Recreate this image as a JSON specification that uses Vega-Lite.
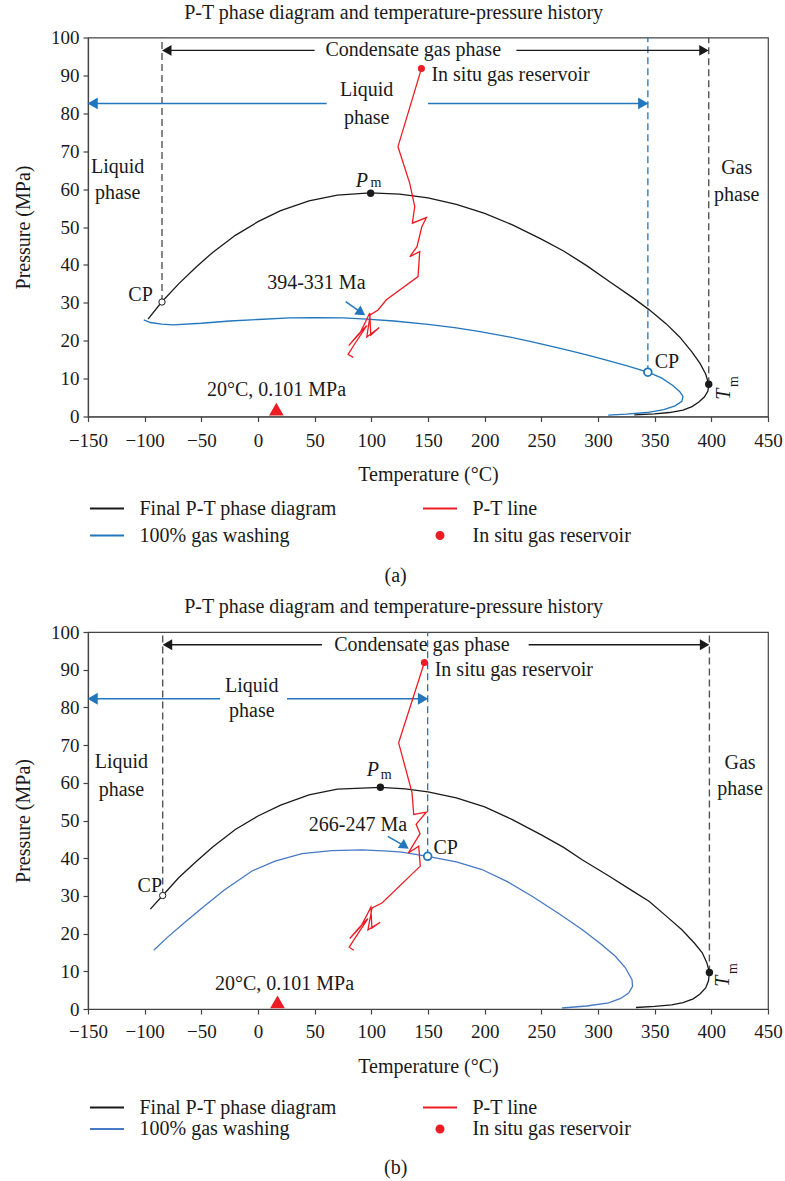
{
  "$schema": "https://vega.github.io/schema/vega-lite/v6.json",
  "padding": {"left": 12, "top": 1.5, "right": 5, "bottom": 5},
  "bounds": "flush",
  "spacing": 594.5,
  "resolve": {"scale": {"color": "independent", "shape": "independent"}, "legend": {"color": "independent"}},
  "config": {
    "font": "Liberation Serif",
    "view": {"stroke": "#444", "strokeWidth": 1.2},
    "axis": {"labelFont": "Liberation Serif", "labelFontSize": 19, "labelColor": "#1a1a1a", "titleFont": "Liberation Serif", "titleFontSize": 20, "titleFontWeight": "normal", "titleColor": "#1a1a1a", "domainColor": "#444", "tickColor": "#444", "tickSize": 5, "grid": false, "domainWidth": 1.2, "tickWidth": 1.2, "labelFlush": false, "labelOverlap": false},
    "title": {"font": "Liberation Serif", "fontSize": 20, "fontWeight": "normal", "color": "#1a1a1a"},
    "legend": {"labelFont": "Liberation Serif", "labelFontSize": 20, "labelColor": "#1a1a1a", "labelLimit": 400}
  },
  "vconcat": [
    {
      "bounds": "flush",
      "resolve": {"scale": {"color": "independent", "shape": "independent"}, "legend": {"color": "independent"}},
      "title": {"text": "(a)", "orient": "bottom", "anchor": "middle", "frame": "bounds", "baseline": "top", "offset": 20, "dx": -2},
      "vconcat": [
        {
          "width": 680,
          "height": 379,
          "title": {"text": "P-T phase diagram and temperature-pressure history", "anchor": "middle", "frame": "bounds", "baseline": "bottom", "offset": -14, "dx": -4},
          "encoding": {
            "x": {"field": "T", "type": "quantitative", "scale": {"domain": [-150, 450], "nice": false, "zero": false}, "axis": {"title": "Temperature (°C)", "values": [-150, -100, -50, 0, 50, 100, 150, 200, 250, 300, 350, 400, 450], "labelPadding": 10, "titlePadding": 13.5}},
            "y": {"field": "P", "type": "quantitative", "scale": {"domain": [0, 100], "nice": false, "zero": false}, "axis": {"title": "Pressure (MPa)", "values": [0, 10, 20, 30, 40, 50, 60, 70, 80, 90, 100], "labelPadding": 4, "titleX": -65, "titleBaseline": "middle"}}
          },
          "layer": [
            {
              "data": {"values": [
                {"T": -84.7, "P": 30.2, "P2": 100},
                {"T": 397.7, "P": 8.5, "P2": 100}
              ]},
              "mark": {"type": "rule", "color": "#555", "strokeWidth": 1.4, "strokeDash": [7, 4]},
              "encoding": {"y2": {"field": "P2"}}
            },
            {
              "data": {"values": [{"T": 344, "P": 11.7, "P2": 100}]},
              "mark": {"type": "rule", "color": "#2176bd", "strokeWidth": 1.3, "strokeDash": [7, 4]},
              "encoding": {"y2": {"field": "P2"}}
            },
            {
              "data": {"values": [
                {"T": -80.5, "T2": 50, "P": 96.6},
                {"T": 228, "T2": 393.5, "P": 96.6}
              ]},
              "mark": {"type": "rule", "color": "#1a1a1a", "strokeWidth": 1.4},
              "encoding": {"x2": {"field": "T2"}}
            },
            {
              "data": {"values": [
                {"T": -145.9, "T2": 60.6, "P": 82.6},
                {"T": 150, "T2": 339.9, "P": 82.6}
              ]},
              "mark": {"type": "rule", "color": "#2176bd", "strokeWidth": 1.5},
              "encoding": {"x2": {"field": "T2"}}
            },
            {
              "data": {"values": [
                {"T": -80.5, "P": 96.6, "dir": "left"},
                {"T": 393.5, "P": 96.6, "dir": "right"}
              ]},
              "mark": {"type": "point", "filled": true, "opacity": 1, "color": "#1a1a1a", "size": 120},
              "encoding": {"shape": {"field": "dir", "type": "nominal", "scale": {"domain": ["left", "right"], "range": ["triangle-left", "triangle-right"]}, "legend": null}}
            },
            {
              "data": {"values": [
                {"T": -145.9, "P": 82.6, "dir": "left"},
                {"T": 339.9, "P": 82.6, "dir": "right"}
              ]},
              "mark": {"type": "point", "filled": true, "opacity": 1, "color": "#2176bd", "size": 140},
              "encoding": {"shape": {"field": "dir", "type": "nominal", "scale": {"domain": ["left", "right"], "range": ["triangle-left", "triangle-right"]}, "legend": null}}
            },
            {
              "data": {"values": [{"T": 77.4, "P": 30.3, "T2": 91.1, "P2": 27.4}]},
              "mark": {"type": "rule", "color": "#2176bd", "strokeWidth": 1.5},
              "encoding": {"x2": {"field": "T2"}, "y2": {"field": "P2"}}
            },
            {
              "data": {"values": [{"T": 91.1, "P": 27.4}]},
              "mark": {"type": "point", "shape": "triangle-up", "angle": 125, "filled": true, "opacity": 1, "color": "#2176bd", "size": 120}
            },
            {
              "data": {"values": [
                {"series": "Final P-T phase diagram", "i": 0, "T": -97, "P": 25.7},
                {"series": "Final P-T phase diagram", "i": 1, "T": -85, "P": 30.2},
                {"series": "Final P-T phase diagram", "i": 2, "T": -70, "P": 35.0},
                {"series": "Final P-T phase diagram", "i": 3, "T": -55, "P": 39.3},
                {"series": "Final P-T phase diagram", "i": 4, "T": -40, "P": 43.3},
                {"series": "Final P-T phase diagram", "i": 5, "T": -20, "P": 47.8},
                {"series": "Final P-T phase diagram", "i": 6, "T": 0, "P": 51.4},
                {"series": "Final P-T phase diagram", "i": 7, "T": 20, "P": 54.3},
                {"series": "Final P-T phase diagram", "i": 8, "T": 45, "P": 56.9},
                {"series": "Final P-T phase diagram", "i": 9, "T": 70, "P": 58.4},
                {"series": "Final P-T phase diagram", "i": 10, "T": 99, "P": 59.0},
                {"series": "Final P-T phase diagram", "i": 11, "T": 125, "P": 58.7},
                {"series": "Final P-T phase diagram", "i": 12, "T": 150, "P": 57.7},
                {"series": "Final P-T phase diagram", "i": 13, "T": 175, "P": 56.0},
                {"series": "Final P-T phase diagram", "i": 14, "T": 200, "P": 53.6},
                {"series": "Final P-T phase diagram", "i": 15, "T": 225, "P": 50.5},
                {"series": "Final P-T phase diagram", "i": 16, "T": 250, "P": 46.8},
                {"series": "Final P-T phase diagram", "i": 17, "T": 270, "P": 43.6},
                {"series": "Final P-T phase diagram", "i": 18, "T": 290, "P": 39.8},
                {"series": "Final P-T phase diagram", "i": 19, "T": 310, "P": 35.6},
                {"series": "Final P-T phase diagram", "i": 20, "T": 330, "P": 31.5},
                {"series": "Final P-T phase diagram", "i": 21, "T": 345, "P": 28.2},
                {"series": "Final P-T phase diagram", "i": 22, "T": 360, "P": 24.5},
                {"series": "Final P-T phase diagram", "i": 23, "T": 372, "P": 21.0},
                {"series": "Final P-T phase diagram", "i": 24, "T": 383, "P": 17.0},
                {"series": "Final P-T phase diagram", "i": 25, "T": 390, "P": 14.0},
                {"series": "Final P-T phase diagram", "i": 26, "T": 395, "P": 11.2},
                {"series": "Final P-T phase diagram", "i": 27, "T": 397.7, "P": 8.5},
                {"series": "Final P-T phase diagram", "i": 28, "T": 397, "P": 6.7},
                {"series": "Final P-T phase diagram", "i": 29, "T": 394, "P": 5.2},
                {"series": "Final P-T phase diagram", "i": 30, "T": 389, "P": 3.8},
                {"series": "Final P-T phase diagram", "i": 31, "T": 383, "P": 2.6},
                {"series": "Final P-T phase diagram", "i": 32, "T": 375, "P": 1.7},
                {"series": "Final P-T phase diagram", "i": 33, "T": 363, "P": 1.05},
                {"series": "Final P-T phase diagram", "i": 34, "T": 350, "P": 0.7},
                {"series": "Final P-T phase diagram", "i": 35, "T": 332, "P": 0.45},
                {"series": "100% gas washing", "i": 0, "T": -100.8, "P": 25.5},
                {"series": "100% gas washing", "i": 1, "T": -95, "P": 24.8},
                {"series": "100% gas washing", "i": 2, "T": -85, "P": 24.4},
                {"series": "100% gas washing", "i": 3, "T": -75, "P": 24.2},
                {"series": "100% gas washing", "i": 4, "T": -50, "P": 24.6},
                {"series": "100% gas washing", "i": 5, "T": -25, "P": 25.2},
                {"series": "100% gas washing", "i": 6, "T": 0, "P": 25.6},
                {"series": "100% gas washing", "i": 7, "T": 28, "P": 26.0},
                {"series": "100% gas washing", "i": 8, "T": 50, "P": 26.1},
                {"series": "100% gas washing", "i": 9, "T": 75, "P": 26.0},
                {"series": "100% gas washing", "i": 10, "T": 96, "P": 25.7},
                {"series": "100% gas washing", "i": 11, "T": 120, "P": 25.2},
                {"series": "100% gas washing", "i": 12, "T": 150, "P": 24.3},
                {"series": "100% gas washing", "i": 13, "T": 175, "P": 23.4},
                {"series": "100% gas washing", "i": 14, "T": 196, "P": 22.4},
                {"series": "100% gas washing", "i": 15, "T": 220, "P": 21.1},
                {"series": "100% gas washing", "i": 16, "T": 240, "P": 19.8},
                {"series": "100% gas washing", "i": 17, "T": 262, "P": 18.3},
                {"series": "100% gas washing", "i": 18, "T": 284, "P": 16.7},
                {"series": "100% gas washing", "i": 19, "T": 305, "P": 15.1},
                {"series": "100% gas washing", "i": 20, "T": 325, "P": 13.4},
                {"series": "100% gas washing", "i": 21, "T": 344, "P": 11.7},
                {"series": "100% gas washing", "i": 22, "T": 356, "P": 10.2},
                {"series": "100% gas washing", "i": 23, "T": 366, "P": 8.2},
                {"series": "100% gas washing", "i": 24, "T": 372, "P": 6.6},
                {"series": "100% gas washing", "i": 25, "T": 375, "P": 5.3},
                {"series": "100% gas washing", "i": 26, "T": 374, "P": 4.0},
                {"series": "100% gas washing", "i": 27, "T": 368, "P": 2.8},
                {"series": "100% gas washing", "i": 28, "T": 358, "P": 1.8},
                {"series": "100% gas washing", "i": 29, "T": 343, "P": 1.05},
                {"series": "100% gas washing", "i": 30, "T": 325, "P": 0.6},
                {"series": "100% gas washing", "i": 31, "T": 309, "P": 0.37},
                {"series": "P-T line", "i": 0, "T": 144.2, "P": 91.8},
                {"series": "P-T line", "i": 1, "T": 123.5, "P": 71.2},
                {"series": "P-T line", "i": 2, "T": 133.9, "P": 61.5},
                {"series": "P-T line", "i": 3, "T": 138.3, "P": 55.4},
                {"series": "P-T line", "i": 4, "T": 136.2, "P": 51.0},
                {"series": "P-T line", "i": 5, "T": 148.6, "P": 52.5},
                {"series": "P-T line", "i": 6, "T": 144.5, "P": 50.0},
                {"series": "P-T line", "i": 7, "T": 140.3, "P": 44.8},
                {"series": "P-T line", "i": 8, "T": 134.0, "P": 42.2},
                {"series": "P-T line", "i": 9, "T": 142.7, "P": 43.5},
                {"series": "P-T line", "i": 10, "T": 141.2, "P": 36.9},
                {"series": "P-T line", "i": 11, "T": 113.3, "P": 30.8},
                {"series": "P-T line", "i": 12, "T": 105.9, "P": 28.1},
                {"series": "P-T line", "i": 13, "T": 99.0, "P": 26.8},
                {"series": "P-T line", "i": 14, "T": 96.0, "P": 21.0},
                {"series": "P-T line", "i": 15, "T": 107.0, "P": 23.5},
                {"series": "P-T line", "i": 16, "T": 99.5, "P": 21.5},
                {"series": "P-T line", "i": 17, "T": 98.6, "P": 27.3},
                {"series": "P-T line", "i": 18, "T": 90.0, "P": 22.0},
                {"series": "P-T line", "i": 19, "T": 80.0, "P": 18.7},
                {"series": "P-T line", "i": 20, "T": 88.0, "P": 21.5},
                {"series": "P-T line", "i": 21, "T": 96.0, "P": 24.0},
                {"series": "P-T line", "i": 22, "T": 85.0, "P": 19.0},
                {"series": "P-T line", "i": 23, "T": 79.5, "P": 16.4},
                {"series": "P-T line", "i": 24, "T": 84.0, "P": 15.6}
              ]},
              "mark": {"type": "line", "strokeWidth": 1.3},
              "encoding": {
                "order": {"field": "i", "type": "quantitative"},
                "color": {"field": "series", "type": "nominal",
                  "scale": {"domain": ["Final P-T phase diagram", "100% gas washing", "P-T line", "In situ gas reservoir"], "range": ["#1a1a1a", "#2176bd", "#ed1c24", "#ed1c24"]},
                  "legend": {"orient": "none", "legendX": 9, "legendY": 461, "columns": 2, "title": null, "padding": 0, "symbolType": "M-2,0L2,0", "symbolSize": 289, "symbolStrokeWidth": 2, "labelOffset": 22.5, "columnPadding": 82, "rowPadding": 7,
                    "encode": {"symbols": {"update": {
                      "shape": {"signal": "datum.value === 'In situ gas reservoir' ? 'circle' : 'M-2,0L2,0'"},
                      "size": {"signal": "datum.value === 'In situ gas reservoir' ? 49 : 289"},
                      "fill": {"signal": "datum.value === 'In situ gas reservoir' ? '#ed1c24' : 'transparent'"},
                      "stroke": {"signal": "datum.value === 'Final P-T phase diagram' ? '#555555' : datum.value === '100% gas washing' ? '#4a90d0' : datum.value === 'P-T line' ? '#f04a50' : 'transparent'"},
                      "strokeWidth": {"value": 2}
                    }}}
                  }
                }
              }
            },
            {
              "data": {"values": [{"T": -84.7, "P": 30.2}]},
              "mark": {"type": "point", "shape": "circle", "filled": true, "fill": "white", "stroke": "#1a1a1a", "strokeWidth": 1, "opacity": 1, "size": 40}
            },
            {
              "data": {"values": [{"T": 344, "P": 11.7}]},
              "mark": {"type": "point", "shape": "circle", "filled": true, "fill": "white", "stroke": "#2176bd", "strokeWidth": 1.8, "opacity": 1, "size": 60}
            },
            {
              "data": {"values": [{"T": 99.4, "P": 58.9}, {"T": 397.7, "P": 8.5}]},
              "mark": {"type": "circle", "color": "#1a1a1a", "opacity": 1, "size": 55}
            },
            {
              "data": {"values": [{"series": "In situ gas reservoir", "T": 144.2, "P": 91.8}]},
              "mark": {"type": "circle", "opacity": 1, "size": 50},
              "encoding": {"color": {"field": "series", "type": "nominal"}}
            },
            {
              "data": {"values": [{"T": 16.2, "P": 1.95}]},
              "mark": {"type": "point", "shape": "triangle-up", "filled": true, "opacity": 1, "color": "#ed1c24", "size": 216}
            },
            {
              "data": {"values": [
                {"label": "Condensate gas phase", "T": 137, "P": 96.6},
                {"label": "Liquid", "T": 95.9, "P": 86.1},
                {"label": "phase", "T": 95.9, "P": 78.8},
                {"label": "Liquid", "T": -123.8, "P": 65.9},
                {"label": "phase", "T": -123.8, "P": 59.0},
                {"label": "Gas", "T": 422.4, "P": 65.6},
                {"label": "phase", "T": 422.4, "P": 58.4},
                {"label": "394-331 Ma", "T": 51.5, "P": 35.2},
                {"label": "20°C, 0.101 MPa", "T": 16.3, "P": 7.0}
              ]},
              "mark": {"type": "text", "align": "center", "baseline": "middle", "fontSize": 20, "color": "#1a1a1a"},
              "encoding": {"text": {"field": "label"}}
            },
            {
              "data": {"values": [
                {"label": "In situ gas reservoir", "T": 153, "P": 90.0},
                {"label": "CP", "T": 350, "P": 14.5}
              ]},
              "mark": {"type": "text", "align": "left", "baseline": "middle", "fontSize": 20, "color": "#1a1a1a"},
              "encoding": {"text": {"field": "label"}}
            },
            {
              "data": {"values": [{"label": "CP", "T": -92.8, "P": 32.1}]},
              "mark": {"type": "text", "align": "right", "baseline": "middle", "fontSize": 20, "color": "#1a1a1a"},
              "encoding": {"text": {"field": "label"}}
            },
            {
              "data": {"values": [{"label": "P", "T": 91.6, "P": 62.2}]},
              "mark": {"type": "text", "align": "center", "baseline": "middle", "fontSize": 20, "fontStyle": "italic", "color": "#1a1a1a"},
              "encoding": {"text": {"field": "label"}}
            },
            {
              "data": {"values": [{"label": "m", "T": 104.1, "P": 61.5}]},
              "mark": {"type": "text", "align": "center", "baseline": "middle", "fontSize": 14, "color": "#1a1a1a"},
              "encoding": {"text": {"field": "label"}}
            },
            {
              "data": {"values": [{"label": "T", "T": 411.3, "P": 5.9}]},
              "mark": {"type": "text", "align": "center", "baseline": "middle", "angle": 270, "fontSize": 20, "fontStyle": "italic", "color": "#1a1a1a"},
              "encoding": {"text": {"field": "label"}}
            },
            {
              "data": {"values": [{"label": "m", "T": 419.7, "P": 9.2}]},
              "mark": {"type": "text", "align": "center", "baseline": "middle", "angle": 270, "fontSize": 14, "color": "#1a1a1a"},
              "encoding": {"text": {"field": "label"}}
            }
          ]
        }
      ]
    },
    {
      "bounds": "flush",
      "resolve": {"scale": {"color": "independent", "shape": "independent"}, "legend": {"color": "independent"}},
      "title": {"text": "(b)", "orient": "bottom", "anchor": "middle", "frame": "bounds", "baseline": "top", "offset": 18, "dx": -2},
      "vconcat": [
        {
          "width": 680,
          "height": 377,
          "title": {"text": "P-T phase diagram and temperature-pressure history", "anchor": "middle", "frame": "bounds", "baseline": "bottom", "offset": -14, "dx": -4},
          "encoding": {
            "x": {"field": "T", "type": "quantitative", "scale": {"domain": [-150, 450], "nice": false, "zero": false}, "axis": {"title": "Temperature (°C)", "values": [-150, -100, -50, 0, 50, 100, 150, 200, 250, 300, 350, 400, 450], "labelPadding": 8.5, "titlePadding": 15}},
            "y": {"field": "P", "type": "quantitative", "scale": {"domain": [0, 100], "nice": false, "zero": false}, "axis": {"title": "Pressure (MPa)", "values": [0, 10, 20, 30, 40, 50, 60, 70, 80, 90, 100], "labelPadding": 4, "titleX": -65, "titleBaseline": "middle"}}
          },
          "layer": [
            {
              "data": {"values": [
                {"T": -84.1, "P": 30.1, "P2": 100},
                {"T": 398.3, "P": 9.7, "P2": 100}
              ]},
              "mark": {"type": "rule", "color": "#555", "strokeWidth": 1.4, "strokeDash": [7, 4]},
              "encoding": {"y2": {"field": "P2"}}
            },
            {
              "data": {"values": [{"T": 149.7, "P": 40.5, "P2": 100}]},
              "mark": {"type": "rule", "color": "#2176bd", "strokeWidth": 1.3, "strokeDash": [7, 4]},
              "encoding": {"y2": {"field": "P2"}}
            },
            {
              "data": {"values": [
                {"T": -79.9, "T2": 56.5, "P": 96.6},
                {"T": 238.8, "T2": 394.1, "P": 96.6}
              ]},
              "mark": {"type": "rule", "color": "#1a1a1a", "strokeWidth": 1.4},
              "encoding": {"x2": {"field": "T2"}}
            },
            {
              "data": {"values": [
                {"T": -145.9, "T2": -33.5, "P": 82.3},
                {"T": 25.6, "T2": 145.6, "P": 82.3}
              ]},
              "mark": {"type": "rule", "color": "#2176bd", "strokeWidth": 1.5},
              "encoding": {"x2": {"field": "T2"}}
            },
            {
              "data": {"values": [
                {"T": -79.9, "P": 96.6, "dir": "left"},
                {"T": 394.1, "P": 96.6, "dir": "right"}
              ]},
              "mark": {"type": "point", "filled": true, "opacity": 1, "color": "#1a1a1a", "size": 120},
              "encoding": {"shape": {"field": "dir", "type": "nominal", "scale": {"domain": ["left", "right"], "range": ["triangle-left", "triangle-right"]}, "legend": null}}
            },
            {
              "data": {"values": [
                {"T": -145.9, "P": 82.3, "dir": "left"},
                {"T": 145.6, "P": 82.3, "dir": "right"}
              ]},
              "mark": {"type": "point", "filled": true, "opacity": 1, "color": "#2176bd", "size": 140},
              "encoding": {"shape": {"field": "dir", "type": "nominal", "scale": {"domain": ["left", "right"], "range": ["triangle-left", "triangle-right"]}, "legend": null}}
            },
            {
              "data": {"values": [{"T": 114.5, "P": 45.8, "T2": 129.5, "P2": 43.2}]},
              "mark": {"type": "rule", "color": "#2176bd", "strokeWidth": 1.5},
              "encoding": {"x2": {"field": "T2"}, "y2": {"field": "P2"}}
            },
            {
              "data": {"values": [{"T": 129.5, "P": 43.2}]},
              "mark": {"type": "point", "shape": "triangle-up", "angle": 124, "filled": true, "opacity": 1, "color": "#2176bd", "size": 120}
            },
            {
              "data": {"values": [
                {"series": "Final P-T phase diagram", "i": 0, "T": -95, "P": 26.5},
                {"series": "Final P-T phase diagram", "i": 1, "T": -84.1, "P": 30.1},
                {"series": "Final P-T phase diagram", "i": 2, "T": -70, "P": 34.8},
                {"series": "Final P-T phase diagram", "i": 3, "T": -55, "P": 39.0},
                {"series": "Final P-T phase diagram", "i": 4, "T": -40, "P": 43.0},
                {"series": "Final P-T phase diagram", "i": 5, "T": -20, "P": 47.6},
                {"series": "Final P-T phase diagram", "i": 6, "T": 0, "P": 51.2},
                {"series": "Final P-T phase diagram", "i": 7, "T": 20, "P": 54.1},
                {"series": "Final P-T phase diagram", "i": 8, "T": 45, "P": 56.8},
                {"series": "Final P-T phase diagram", "i": 9, "T": 70, "P": 58.3},
                {"series": "Final P-T phase diagram", "i": 10, "T": 108, "P": 58.8},
                {"series": "Final P-T phase diagram", "i": 11, "T": 130, "P": 58.4},
                {"series": "Final P-T phase diagram", "i": 12, "T": 150, "P": 57.6},
                {"series": "Final P-T phase diagram", "i": 13, "T": 175, "P": 56.0},
                {"series": "Final P-T phase diagram", "i": 14, "T": 200, "P": 53.6},
                {"series": "Final P-T phase diagram", "i": 15, "T": 224, "P": 50.3},
                {"series": "Final P-T phase diagram", "i": 16, "T": 250, "P": 46.2},
                {"series": "Final P-T phase diagram", "i": 17, "T": 270, "P": 42.8},
                {"series": "Final P-T phase diagram", "i": 18, "T": 286, "P": 39.6},
                {"series": "Final P-T phase diagram", "i": 19, "T": 310, "P": 35.2},
                {"series": "Final P-T phase diagram", "i": 20, "T": 330, "P": 31.4},
                {"series": "Final P-T phase diagram", "i": 21, "T": 345, "P": 28.6},
                {"series": "Final P-T phase diagram", "i": 22, "T": 360, "P": 24.7},
                {"series": "Final P-T phase diagram", "i": 23, "T": 374, "P": 21.0},
                {"series": "Final P-T phase diagram", "i": 24, "T": 385, "P": 17.5},
                {"series": "Final P-T phase diagram", "i": 25, "T": 392, "P": 14.9},
                {"series": "Final P-T phase diagram", "i": 26, "T": 396, "P": 12.3},
                {"series": "Final P-T phase diagram", "i": 27, "T": 398.3, "P": 9.7},
                {"series": "Final P-T phase diagram", "i": 28, "T": 397.5, "P": 7.5},
                {"series": "Final P-T phase diagram", "i": 29, "T": 395, "P": 5.6},
                {"series": "Final P-T phase diagram", "i": 30, "T": 390, "P": 4.0},
                {"series": "Final P-T phase diagram", "i": 31, "T": 384, "P": 2.7},
                {"series": "Final P-T phase diagram", "i": 32, "T": 375, "P": 1.7},
                {"series": "Final P-T phase diagram", "i": 33, "T": 365, "P": 1.1},
                {"series": "Final P-T phase diagram", "i": 34, "T": 350, "P": 0.7},
                {"series": "Final P-T phase diagram", "i": 35, "T": 333.5, "P": 0.4},
                {"series": "100% gas washing", "i": 0, "T": -92, "P": 15.6},
                {"series": "100% gas washing", "i": 1, "T": -80, "P": 19.0},
                {"series": "100% gas washing", "i": 2, "T": -65, "P": 22.9},
                {"series": "100% gas washing", "i": 3, "T": -49.4, "P": 26.8},
                {"series": "100% gas washing", "i": 4, "T": -30, "P": 31.5},
                {"series": "100% gas washing", "i": 5, "T": -5.3, "P": 36.6},
                {"series": "100% gas washing", "i": 6, "T": 15, "P": 39.2},
                {"series": "100% gas washing", "i": 7, "T": 38.8, "P": 41.2},
                {"series": "100% gas washing", "i": 8, "T": 65, "P": 42.0},
                {"series": "100% gas washing", "i": 9, "T": 91.8, "P": 42.2},
                {"series": "100% gas washing", "i": 10, "T": 115, "P": 41.9},
                {"series": "100% gas washing", "i": 11, "T": 127, "P": 41.6},
                {"series": "100% gas washing", "i": 12, "T": 149.7, "P": 40.5},
                {"series": "100% gas washing", "i": 13, "T": 175, "P": 39.0},
                {"series": "100% gas washing", "i": 14, "T": 197.6, "P": 37.0},
                {"series": "100% gas washing", "i": 15, "T": 220, "P": 33.8},
                {"series": "100% gas washing", "i": 16, "T": 241.8, "P": 29.9},
                {"series": "100% gas washing", "i": 17, "T": 265, "P": 25.4},
                {"series": "100% gas washing", "i": 18, "T": 285.9, "P": 21.1},
                {"series": "100% gas washing", "i": 19, "T": 302, "P": 17.4},
                {"series": "100% gas washing", "i": 20, "T": 315.3, "P": 14.0},
                {"series": "100% gas washing", "i": 21, "T": 324, "P": 11.0},
                {"series": "100% gas washing", "i": 22, "T": 330, "P": 7.8},
                {"series": "100% gas washing", "i": 23, "T": 330.5, "P": 6.0},
                {"series": "100% gas washing", "i": 24, "T": 327, "P": 4.2},
                {"series": "100% gas washing", "i": 25, "T": 320, "P": 2.8},
                {"series": "100% gas washing", "i": 26, "T": 309.4, "P": 1.6},
                {"series": "100% gas washing", "i": 27, "T": 290, "P": 0.8},
                {"series": "100% gas washing", "i": 28, "T": 268.2, "P": 0.26},
                {"series": "P-T line", "i": 0, "T": 146.8, "P": 91.9},
                {"series": "P-T line", "i": 1, "T": 124.1, "P": 70.6},
                {"series": "P-T line", "i": 2, "T": 135.9, "P": 57.4},
                {"series": "P-T line", "i": 3, "T": 137.4, "P": 51.6},
                {"series": "P-T line", "i": 4, "T": 148.5, "P": 52.2},
                {"series": "P-T line", "i": 5, "T": 139.5, "P": 49.0},
                {"series": "P-T line", "i": 6, "T": 143.0, "P": 46.5},
                {"series": "P-T line", "i": 7, "T": 132.7, "P": 41.4},
                {"series": "P-T line", "i": 8, "T": 141.8, "P": 43.2},
                {"series": "P-T line", "i": 9, "T": 143.2, "P": 37.9},
                {"series": "P-T line", "i": 10, "T": 109.4, "P": 28.1},
                {"series": "P-T line", "i": 11, "T": 100.6, "P": 26.8},
                {"series": "P-T line", "i": 12, "T": 97.0, "P": 21.0},
                {"series": "P-T line", "i": 13, "T": 107.9, "P": 23.0},
                {"series": "P-T line", "i": 14, "T": 100.5, "P": 21.5},
                {"series": "P-T line", "i": 15, "T": 99.6, "P": 27.0},
                {"series": "P-T line", "i": 16, "T": 91.0, "P": 22.0},
                {"series": "P-T line", "i": 17, "T": 81.0, "P": 18.7},
                {"series": "P-T line", "i": 18, "T": 89.0, "P": 21.5},
                {"series": "P-T line", "i": 19, "T": 97.0, "P": 24.0},
                {"series": "P-T line", "i": 20, "T": 86.0, "P": 19.0},
                {"series": "P-T line", "i": 21, "T": 80.5, "P": 16.4},
                {"series": "P-T line", "i": 22, "T": 84.5, "P": 15.6}
              ]},
              "mark": {"type": "line", "strokeWidth": 1.3},
              "encoding": {
                "order": {"field": "i", "type": "quantitative"},
                "color": {"field": "series", "type": "nominal",
                  "scale": {"domain": ["Final P-T phase diagram", "100% gas washing", "P-T line", "In situ gas reservoir"], "range": ["#1a1a1a", "#4679c4", "#ed1c24", "#ed1c24"]},
                  "legend": {"orient": "none", "legendX": 9, "legendY": 465.5, "columns": 2, "title": null, "padding": 0, "symbolType": "M-2,0L2,0", "symbolSize": 289, "symbolStrokeWidth": 2, "labelOffset": 22.5, "columnPadding": 82, "rowPadding": 1.5,
                    "encode": {"symbols": {"update": {
                      "shape": {"signal": "datum.value === 'In situ gas reservoir' ? 'circle' : 'M-2,0L2,0'"},
                      "size": {"signal": "datum.value === 'In situ gas reservoir' ? 49 : 289"},
                      "fill": {"signal": "datum.value === 'In situ gas reservoir' ? '#ed1c24' : 'transparent'"},
                      "stroke": {"signal": "datum.value === 'Final P-T phase diagram' ? '#1a1a1a' : datum.value === '100% gas washing' ? '#4a90d0' : datum.value === 'P-T line' ? '#ed1c24' : 'transparent'"},
                      "strokeWidth": {"value": 2}
                    }}}
                  }
                }
              }
            },
            {
              "data": {"values": [{"T": -84.1, "P": 30.1}]},
              "mark": {"type": "point", "shape": "circle", "filled": true, "fill": "white", "stroke": "#1a1a1a", "strokeWidth": 1, "opacity": 1, "size": 40}
            },
            {
              "data": {"values": [{"T": 149.7, "P": 40.5}]},
              "mark": {"type": "point", "shape": "circle", "filled": true, "fill": "white", "stroke": "#2176bd", "strokeWidth": 1.8, "opacity": 1, "size": 60}
            },
            {
              "data": {"values": [{"T": 108, "P": 58.8}, {"T": 398.3, "P": 9.7}]},
              "mark": {"type": "circle", "color": "#1a1a1a", "opacity": 1, "size": 55}
            },
            {
              "data": {"values": [{"series": "In situ gas reservoir", "T": 146.8, "P": 91.9}]},
              "mark": {"type": "circle", "opacity": 1, "size": 50},
              "encoding": {"color": {"field": "series", "type": "nominal"}}
            },
            {
              "data": {"values": [{"T": 17.2, "P": 1.9}]},
              "mark": {"type": "point", "shape": "triangle-up", "filled": true, "opacity": 1, "color": "#ed1c24", "size": 216}
            },
            {
              "data": {"values": [
                {"label": "Condensate gas phase", "T": 144.7, "P": 96.6},
                {"label": "Liquid", "T": -5.5, "P": 85.7},
                {"label": "phase", "T": -5.5, "P": 79.0},
                {"label": "Liquid", "T": -120.5, "P": 65.5},
                {"label": "phase", "T": -120.5, "P": 58.2},
                {"label": "Gas", "T": 425.3, "P": 65.3},
                {"label": "phase", "T": 425.3, "P": 58.4},
                {"label": "266-247 Ma", "T": 88.2, "P": 48.9},
                {"label": "20°C, 0.101 MPa", "T": 23.4, "P": 6.6}
              ]},
              "mark": {"type": "text", "align": "center", "baseline": "middle", "fontSize": 20, "color": "#1a1a1a"},
              "encoding": {"text": {"field": "label"}}
            },
            {
              "data": {"values": [
                {"label": "In situ gas reservoir", "T": 155.9, "P": 89.8},
                {"label": "CP", "T": 154.8, "P": 42.8}
              ]},
              "mark": {"type": "text", "align": "left", "baseline": "middle", "fontSize": 20, "color": "#1a1a1a"},
              "encoding": {"text": {"field": "label"}}
            },
            {
              "data": {"values": [{"label": "CP", "T": -84.7, "P": 32.6}]},
              "mark": {"type": "text", "align": "right", "baseline": "middle", "fontSize": 20, "color": "#1a1a1a"},
              "encoding": {"text": {"field": "label"}}
            },
            {
              "data": {"values": [{"label": "P", "T": 101.3, "P": 63.3}]},
              "mark": {"type": "text", "align": "center", "baseline": "middle", "fontSize": 20, "fontStyle": "italic", "color": "#1a1a1a"},
              "encoding": {"text": {"field": "label"}}
            },
            {
              "data": {"values": [{"label": "m", "T": 113, "P": 62.0}]},
              "mark": {"type": "text", "align": "center", "baseline": "middle", "fontSize": 14, "color": "#1a1a1a"},
              "encoding": {"text": {"field": "label"}}
            },
            {
              "data": {"values": [{"label": "T", "T": 410.1, "P": 7.4}]},
              "mark": {"type": "text", "align": "center", "baseline": "middle", "angle": 270, "fontSize": 20, "fontStyle": "italic", "color": "#1a1a1a"},
              "encoding": {"text": {"field": "label"}}
            },
            {
              "data": {"values": [{"label": "m", "T": 419.4, "P": 10.7}]},
              "mark": {"type": "text", "align": "center", "baseline": "middle", "angle": 270, "fontSize": 14, "color": "#1a1a1a"},
              "encoding": {"text": {"field": "label"}}
            }
          ]
        }
      ]
    }
  ]
}
